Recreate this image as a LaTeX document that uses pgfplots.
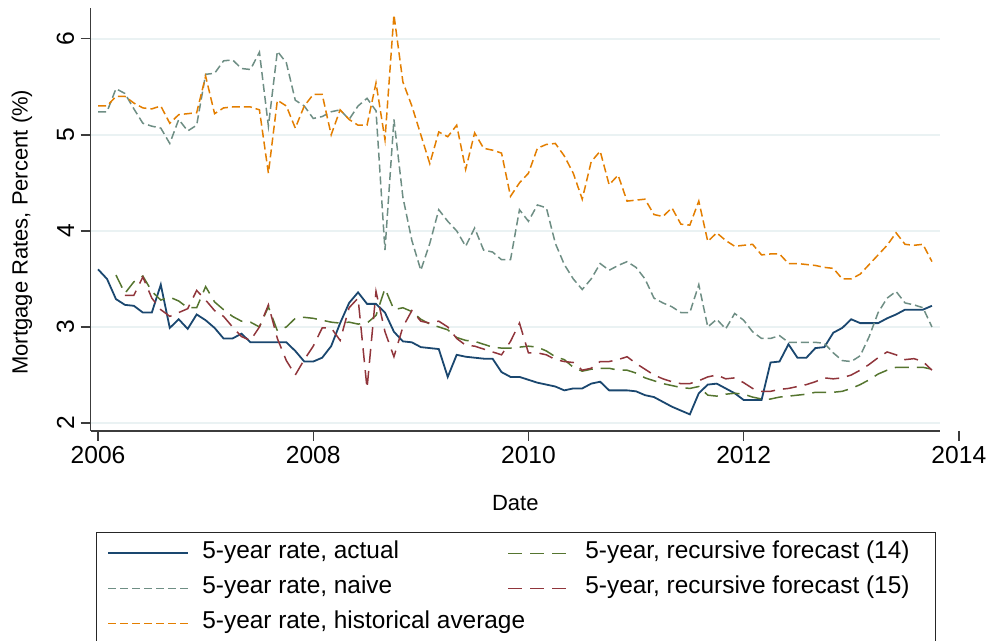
\documentclass[border=0pt]{standalone}
\usepackage{fontspec}
\setmainfont{Liberation Sans}
\usepackage{pgfplots}
\usepackage{pgfplotstable}
\pgfplotsset{compat=1.18}
\definecolor{snavy}{RGB}{26,71,111}
\definecolor{steal}{RGB}{110,142,132}
\definecolor{sorange}{RGB}{227,126,0}
\definecolor{sgreen}{RGB}{85,117,47}
\definecolor{smaroon}{RGB}{144,53,59}
\definecolor{sgrid}{RGB}{234,242,243}
\definecolor{saxis}{RGB}{60,60,60}

\pgfplotsset{
  legActual/.style={legend image code/.code={%
    \draw[draw=snavy,line width=0.9pt,solid] (5.5pt,0pt) -- (45.5pt,0pt);
    \path[draw=none,fill=none] (0pt,-4pt) rectangle (52.5pt,4pt);}},
  legNaive/.style={legend image code/.code={%
    \draw[draw=steal,line width=0.75pt,dash pattern=on 4pt off 2pt] (5.5pt,0pt) -- (45.5pt,0pt);
    \path[draw=none,fill=none] (0pt,-4pt) rectangle (52.5pt,4pt);}},
  legHist/.style={legend image code/.code={%
    \draw[draw=sorange,line width=0.75pt,dash pattern=on 4pt off 2pt] (5.5pt,0pt) -- (45.5pt,0pt);
    \path[draw=none,fill=none] (0pt,-4pt) rectangle (52.5pt,4pt);}},
  legRfourteen/.style={legend image code/.code={%
    \draw[draw=sgreen,line width=0.75pt,dash pattern=on 7pt off 4pt] (3pt,0pt) -- (34pt,0pt);
    \path[draw=none,fill=none] (0pt,-4pt) rectangle (41.5pt,4pt);}},
  legRfifteen/.style={legend image code/.code={%
    \draw[draw=smaroon,line width=0.75pt,dash pattern=on 7pt off 4pt] (3pt,0pt) -- (34pt,0pt);
    \path[draw=none,fill=none] (0pt,-4pt) rectangle (41.5pt,4pt);}},
}

% m = months since 2006m1
\pgfplotstableread{
m actual naive hist rfourteen rfifteen
0 3.60 5.24 5.30 nan nan
1 3.50 5.24 5.30 nan nan
2 3.29 5.48 5.40 3.54 nan
3 3.23 5.43 5.40 3.35 3.33
4 3.22 5.27 5.33 3.47 3.33
5 3.15 5.12 5.28 3.53 3.52
6 3.15 5.09 5.27 3.37 3.30
7 3.44 5.07 5.30 3.28 3.18
8 2.99 4.91 5.12 3.31 3.11
9 3.08 5.16 5.21 3.27 3.15
10 2.98 5.04 5.22 3.20 3.19
11 3.13 5.10 5.23 3.20 3.38
12 3.07 5.63 5.61 3.42 3.28
13 2.99 5.64 5.22 3.26 3.17
14 2.88 5.77 5.28 3.18 3.11
15 2.88 5.78 5.29 3.11 3.00
16 2.93 5.69 5.29 3.06 2.90
17 2.84 5.68 5.29 3.05 2.86
18 2.84 5.86 5.26 3.00 3.00
19 2.84 5.09 4.60 3.21 3.23
20 2.84 5.87 5.36 2.96 2.88
21 2.84 5.75 5.30 3.00 2.65
22 2.75 5.36 5.07 3.09 2.50
23 2.64 5.30 5.30 3.10 2.66
24 2.64 5.17 5.42 3.09 2.80
25 2.68 5.19 5.42 3.07 2.99
26 2.80 5.24 5.00 3.05 2.99
27 3.04 5.26 5.26 3.04 2.86
28 3.25 5.16 5.16 3.05 3.20
29 3.36 5.30 5.10 3.03 3.30
30 3.24 5.38 5.10 3.04 2.36
31 3.24 5.25 5.54 3.12 3.37
32 3.15 3.80 4.95 3.40 2.95
33 2.95 5.16 6.25 3.18 2.69
34 2.85 4.35 5.55 3.20 3.00
35 2.84 3.90 5.30 3.16 3.17
36 2.79 3.59 5.00 3.08 3.06
37 2.78 3.87 4.70 3.03 3.04
38 2.77 4.22 5.03 3.00 3.06
39 2.48 4.10 4.98 2.97 3.00
40 2.71 4.00 5.10 2.89 2.88
41 2.69 3.84 4.64 2.86 2.81
42 2.68 4.03 5.02 2.85 2.80
43 2.67 3.80 4.86 2.82 2.77
44 2.67 3.78 4.84 2.79 2.74
45 2.53 3.70 4.81 2.78 2.71
46 2.48 3.70 4.36 2.78 2.85
47 2.48 4.22 4.50 2.79 3.04
48 2.45 4.10 4.60 2.80 2.73
49 2.42 4.27 4.86 2.79 2.73
50 2.40 4.24 4.90 2.75 2.71
51 2.38 3.87 4.91 2.69 2.66
52 2.34 3.65 4.78 2.66 2.64
53 2.36 3.50 4.60 2.58 2.63
54 2.36 3.39 4.33 2.54 2.55
55 2.41 3.50 4.72 2.56 2.57
56 2.43 3.66 4.83 2.57 2.64
57 2.34 3.59 4.48 2.57 2.64
58 2.34 3.64 4.58 2.55 2.66
59 2.34 3.68 4.31 2.55 2.69
60 2.33 3.62 4.32 2.52 2.62
61 2.29 3.50 4.33 2.47 2.56
62 2.27 3.30 4.17 2.44 2.50
63 2.22 3.25 4.15 2.41 2.46
64 2.17 3.21 4.24 2.39 2.43
65 2.13 3.15 4.07 2.37 2.41
66 2.09 3.15 4.06 2.36 2.41
67 2.31 3.44 4.31 2.38 2.44
68 2.40 3.00 3.89 2.29 2.48
69 2.41 3.08 3.98 2.28 2.50
70 2.36 2.98 3.90 2.30 2.46
71 2.31 3.14 3.84 2.31 2.47
72 2.24 3.07 3.85 2.30 2.42
73 2.24 2.95 3.86 2.27 2.36
74 2.24 2.88 3.75 2.25 2.33
75 2.63 2.88 3.76 2.25 2.33
76 2.64 2.91 3.76 2.27 2.35
77 2.82 2.84 3.66 2.28 2.36
78 2.68 2.84 3.66 2.29 2.38
79 2.68 2.84 3.65 2.30 2.40
80 2.78 2.84 3.64 2.32 2.43
81 2.79 2.83 3.62 2.32 2.47
82 2.94 2.73 3.61 2.32 2.46
83 2.99 2.65 3.50 2.33 2.47
84 3.08 2.64 3.50 2.36 2.50
85 3.04 2.70 3.55 2.40 2.55
86 3.04 2.90 3.65 2.45 2.61
87 3.04 3.15 3.75 2.51 2.68
88 3.09 3.30 3.85 2.55 2.74
89 3.13 3.37 3.98 2.58 2.71
90 3.18 3.25 3.86 2.58 2.66
91 3.18 3.23 3.85 2.58 2.67
92 3.18 3.20 3.86 2.58 2.64
93 3.22 3.00 3.68 2.56 2.55
}\mydata

\begin{document}
\begin{tikzpicture}
\begin{axis}[
  name=ax,
  scale only axis,
  width=424.75pt, height=211.5pt,
  xmin=2005.930, xmax=2013.825,
  ymin=1.917, ymax=6.32,
  clip=false,
  axis x line*=bottom, axis y line*=left,
  axis line style={draw=saxis, line width=0.7pt},
  xtick={2006,2008,2010,2012},
  xticklabels={2006,2008,2010,2012},
  ytick={2,3,4,5,6},
  /pgf/number format/assume math mode=true,
  ymajorgrids,
  grid style={sgrid, line width=0.9pt},
  tick align=outside,
  major tick length=5pt,
  tick style={draw=saxis, line width=0.7pt},
  tick label style={font=\fontsize{12.3}{14}\selectfont},
  yticklabel style={rotate=90, anchor=south, inner sep=3pt},
  xticklabel style={inner sep=2.5pt},
  label style={font=\fontsize{11}{13}\selectfont},
  xlabel={Date},
  ylabel={Mortgage Rates, Percent (\%)},
  xlabel style={at={(axis description cs:0.5,-0.1702)}, anchor=center},
  ylabel style={at={(axis description cs:-0.0806,0.47)}, anchor=center},
  legend columns=2,
  legend cell align=left,
  legend style={
    name=leg,
    at={(axis description cs:0.00765,-0.2411)}, anchor=north west,
    draw=none, fill=none,
    inner xsep=0pt, inner ysep=4.75pt,
    column sep=0pt, row sep=7pt,
    nodes={inner sep=0pt, text height=8pt, text depth=2.5pt},
    font=\fontsize{12.2}{14}\selectfont
  },
]
\addplot[snavy, line width=0.9pt, legActual] table[x expr=2006+\thisrow{m}/12, y=actual]{\mydata};
\addlegendentry{\makebox[150pt][l]{5-year rate, actual}}
\addplot[sgreen, line width=0.75pt, dash pattern=on 7pt off 4pt, legRfourteen] table[x expr=2006+\thisrow{m}/12, y=rfourteen]{\mydata};
\addlegendentry{\makebox[175pt][l]{5-year, recursive forecast (14)}}
\addplot[steal, line width=0.75pt, dash pattern=on 4pt off 2pt, legNaive] table[x expr=2006+\thisrow{m}/12, y=naive]{\mydata};
\addlegendentry{\makebox[150pt][l]{5-year rate, naive}}
\addplot[smaroon, line width=0.75pt, dash pattern=on 7pt off 4pt, legRfifteen] table[x expr=2006+\thisrow{m}/12, y=rfifteen]{\mydata};
\addlegendentry{\makebox[175pt][l]{5-year, recursive forecast (15)}}
\addplot[sorange, line width=0.75pt, dash pattern=on 4pt off 2pt, legHist] table[x expr=2006+\thisrow{m}/12, y=hist]{\mydata};
\addlegendentry{\makebox[150pt][l]{5-year rate, historical average}}

\draw[draw=saxis, line width=0.7pt] (axis cs:2014,1.917) -- ++(0pt,-5pt);
\node[anchor=north, inner sep=2.5pt, font=\fontsize{12.3}{14}\selectfont] at ([yshift=-5pt]axis cs:2014,1.917) {2014};
\end{axis}
\draw[draw=black!85, line width=0.5pt] (leg.south west) rectangle (leg.north east);
\pgfresetboundingbox
\path[use as bounding box] ([xshift=-45.25pt,yshift=-105pt]ax.south west) rectangle ([xshift=25pt,yshift=4pt]ax.north east);
\end{tikzpicture}
\end{document}
